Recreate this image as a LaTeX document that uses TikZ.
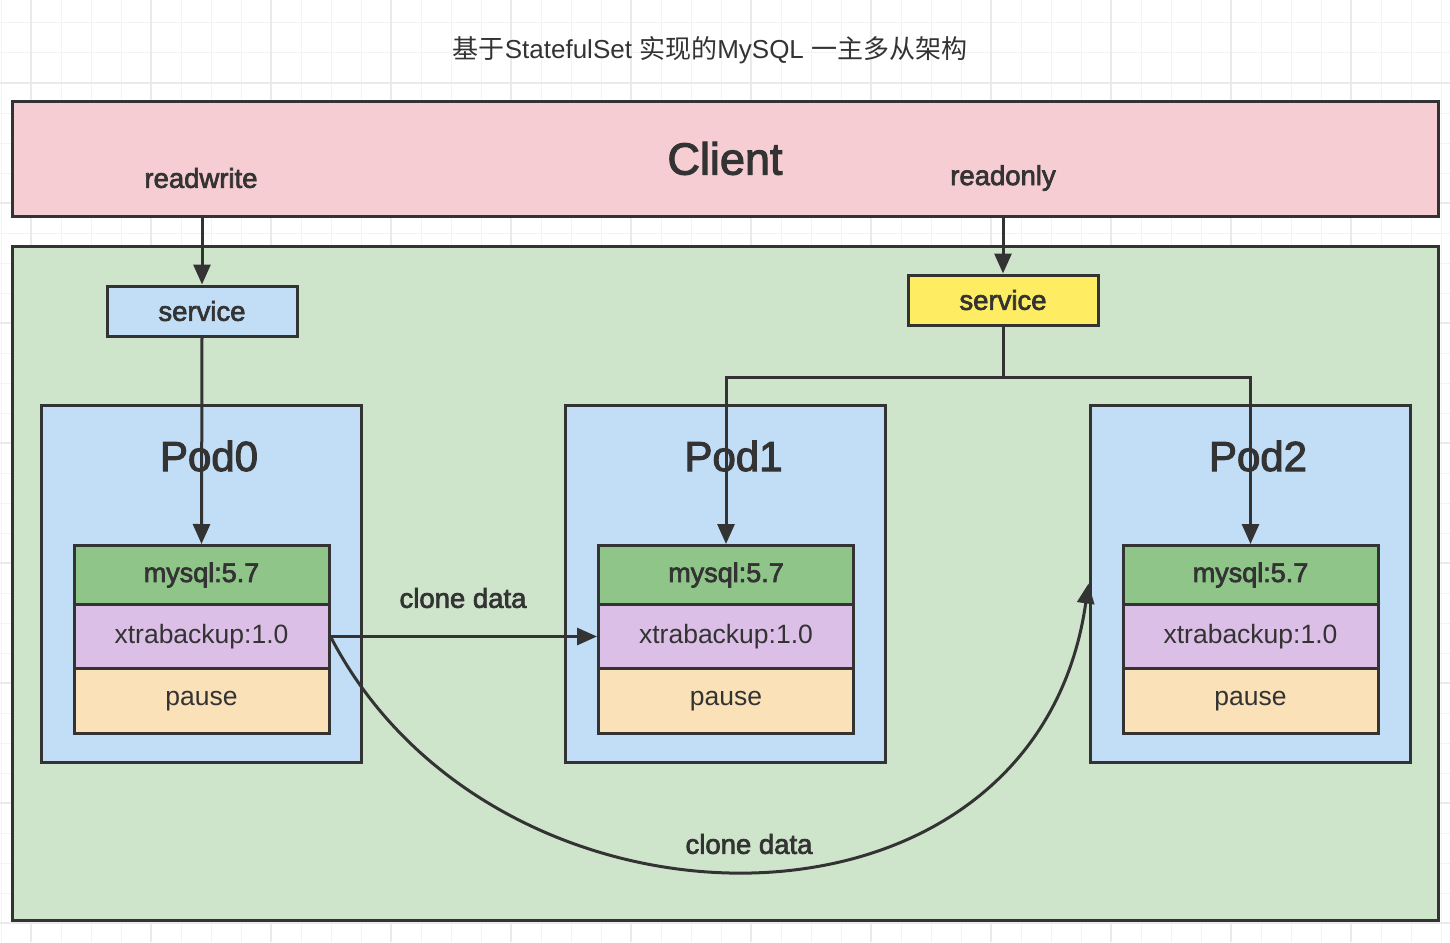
\documentclass[tikz,border=0pt]{standalone}
\usepackage{fontspec}
\setmainfont{Liberation Sans}
\newfontfamily\cjk{Noto Sans CJK SC}
\newfontfamily\medfont[FakeBold=2.5]{Liberation Sans}
\usepackage{xcolor}
\usetikzlibrary{arrows.meta}

\definecolor{inkc}{HTML}{333333}
\definecolor{gridc}{HTML}{F3F3F3}
\definecolor{gridm}{HTML}{EAEAEA}
\definecolor{clientc}{HTML}{F6CDD3}
\definecolor{clusterc}{HTML}{CFE5CB}
\definecolor{podc}{HTML}{C2DEF6}
\definecolor{svcy}{HTML}{FEED62}
\definecolor{mysqlc}{HTML}{90C58A}
\definecolor{xtrac}{HTML}{DCBFE6}
\definecolor{pausec}{HTML}{FAE1B8}

\begin{document}
\begin{tikzpicture}[x=1pt,y=-1pt]%
  \tikzstyle{gridminor}=[draw=gridc,line width=1pt]
  \tikzstyle{gridmajor}=[draw=gridm,line width=2pt]
  \tikzstyle{boxc}=[rectangle,draw=inkc,line width=3pt,inner sep=0pt]
  \tikzstyle{svcn}=[boxc,minimum width=190pt,minimum height=50pt,text=inkc,font=\medfont\fontsize{27.5}{32}\selectfont]
  \tikzstyle{podn}=[boxc,fill=podc,minimum width=320pt,minimum height=357pt]
  \tikzstyle{ctrn}=[boxc,minimum width=255pt,text=inkc,font=\fontsize{26.5}{31}\selectfont]
  \tikzstyle{lab}=[text=inkc,inner sep=0pt,font=\medfont\fontsize{27.5}{32}\selectfont]
  \tikzstyle{podlab}=[text=inkc,inner sep=0pt,font=\medfont\fontsize{42}{48}\selectfont]
  \tikzstyle{arr}=[draw=inkc,line width=3pt,-{Triangle[length=20pt,width=17pt]}]
  \useasboundingbox (0,0) rectangle (1450,942);
  % grid
  \foreach \gx in {0,...,48} \draw[gridminor] (1+30*\gx,0) -- ++(0,942);
  \foreach \gy in {0,...,30} \draw[gridminor] (0,23+30*\gy) -- ++(1450,0);
  \foreach \gx in {0,...,11} \draw[gridmajor] (31+120*\gx,0) -- ++(0,942);
  \foreach \gy in {0,...,7} \draw[gridmajor] (0,83+120*\gy) -- ++(1450,0);
  \node(title)[text=inkc,font=\fontsize{26}{30}\selectfont] at (710,50)
    {{\cjk 基于}StatefulSet {\cjk 实现的}MySQL {\cjk 一主多从架构}};
  % client and cluster
  \node(client)[boxc,fill=clientc,minimum width=1426pt,minimum height=115pt,
    text=inkc,font=\medfont\fontsize{45}{52}\selectfont] at (725,158.5) {Client};
  \node(rwlab)[lab] at (201,178) {readwrite};
  \node(rolab)[lab] at (1003,178) {readonly};
  \node(cluster)[boxc,fill=clusterc,minimum width=1426pt,minimum height=674pt] at (725,583) {};
  \node(svcL)[svcn,fill=podc] at (202,311) {service};
  \node(svcR)[svcn,fill=svcy] at (1003,300) {service};
  % pods
  \foreach \i/\px in {0/201,1/725.5,2/1250} {
    \node(pod\i)[podn] at (\px,583.5) {};
    \node(pod\i lab)[podlab] at (\px+8,456) {Pod\i};
    \node(mysql\i)[ctrn,fill=mysqlc,minimum height=59pt,font=\medfont\fontsize{27}{31}\selectfont]
      at (\px+0.5,575) {mysql:5.7};
    \node(xtra\i)[ctrn,fill=xtrac,minimum height=64pt] at (\px+0.5,636.5) {xtrabackup:1.0};
    \node(pause\i)[ctrn,fill=pausec,minimum height=65pt] at (\px+0.5,701) {pause};
  }
  % connectors
  \coordinate(split) at (1003,377);
  \draw[arr] (client.south -| svcL.north) -- (svcL.north);
  \draw[arr] (svcL.south) -- (mysql0.north);
  \draw[arr] (client.south -| svcR.north) -- (svcR.north);
  \draw[arr] (svcR.south) -- (split) -| (mysql1.north);
  \draw[arr] (split) -| (mysql2.north);
  \draw[arr] (xtra0.east) -- (xtra1.west);
  \node(clone1)[lab] at (463,598) {clone data};
  \draw[arr] (xtra0.east) .. controls (495,955) and (1035,960) .. (pod2.west);
  \node(clone2)[lab] at (749,844) {clone data};
\end{tikzpicture}
\end{document}
